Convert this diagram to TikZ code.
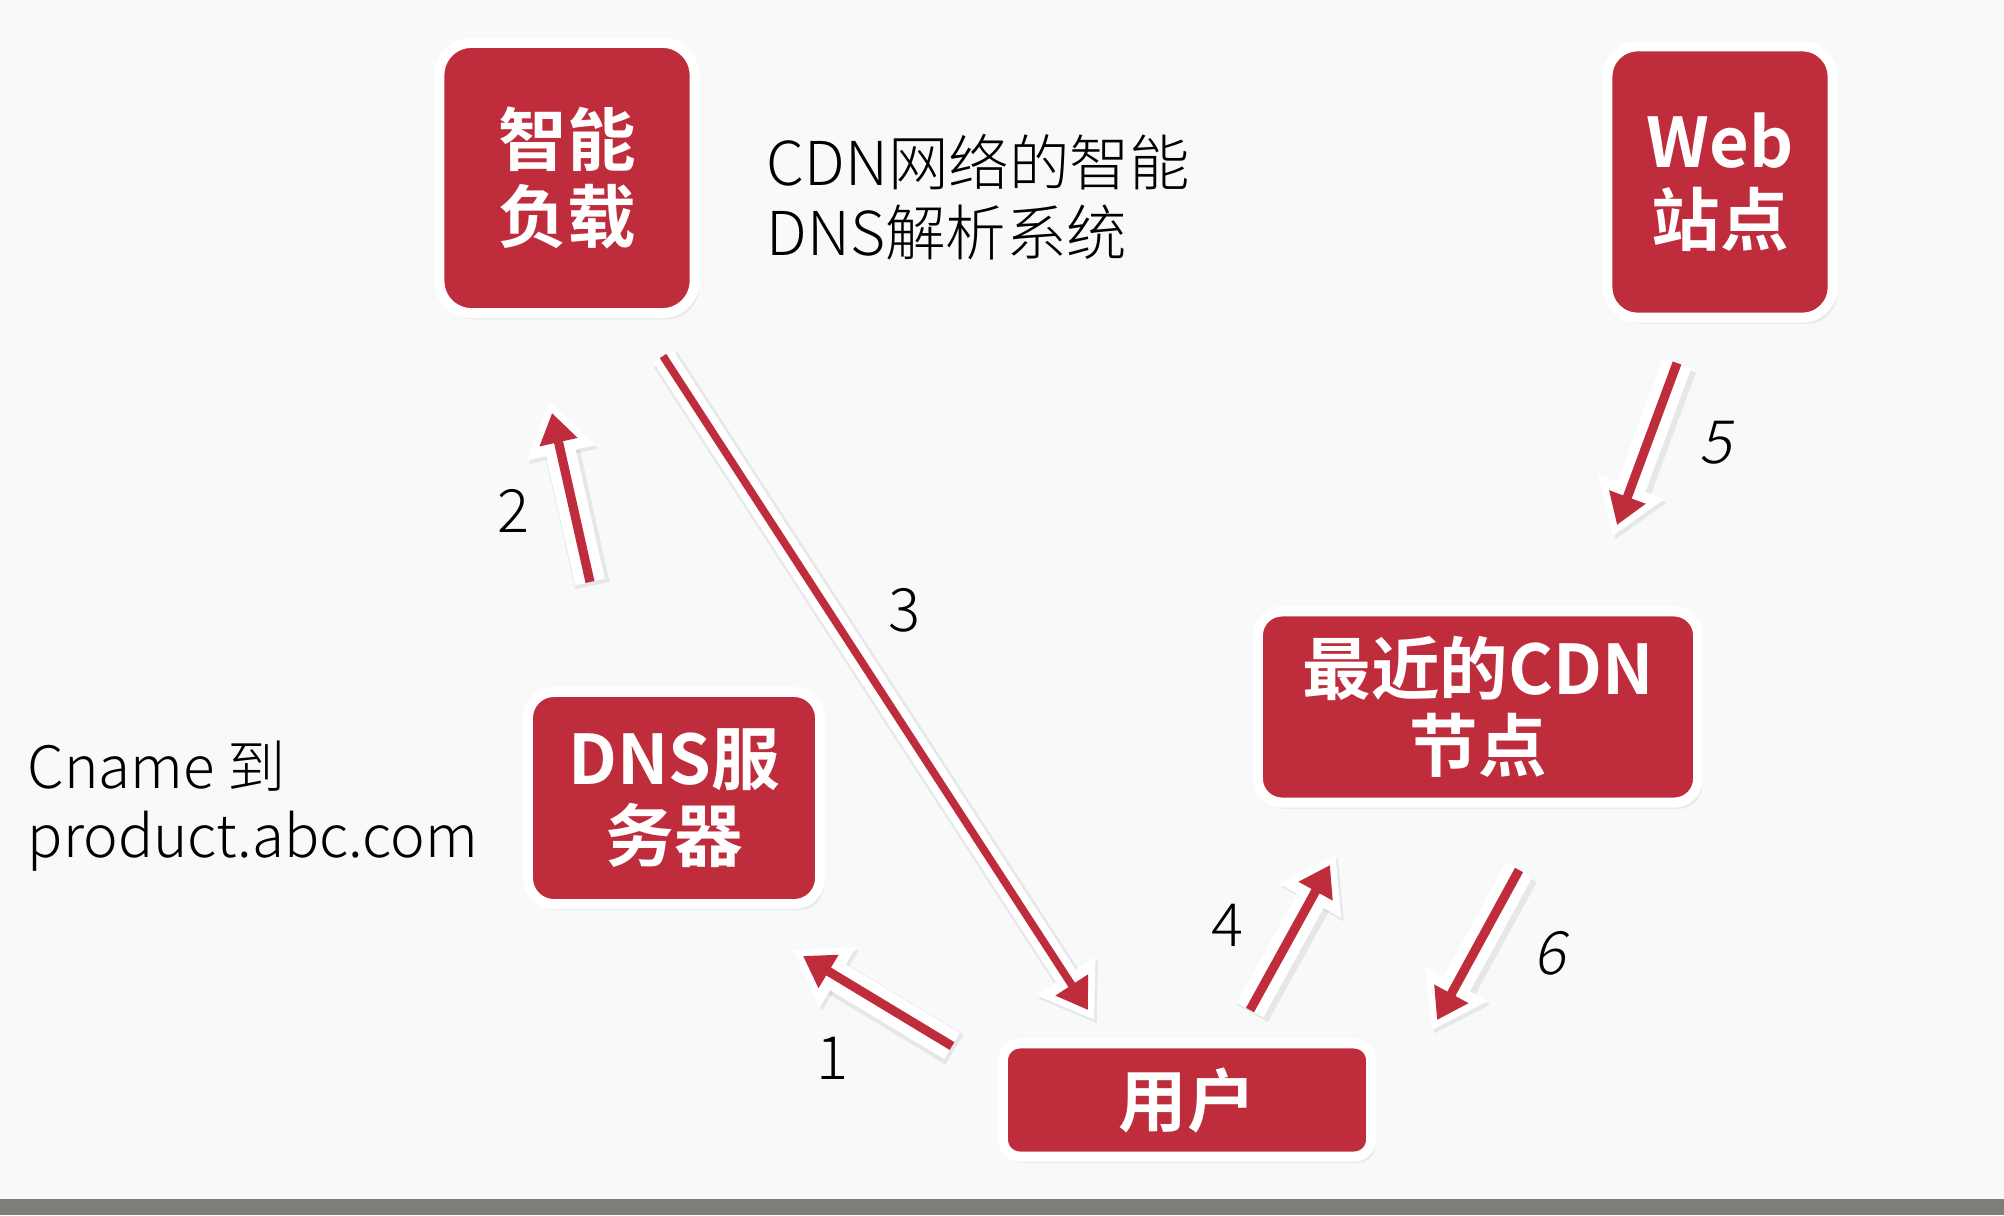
\documentclass[tikz,border=0pt]{standalone}
\usepackage{fontspec}
\usetikzlibrary{arrows.meta,shadows}

\newfontfamily\cjk{Noto Sans CJK SC}
\IfFontExistsTF{Noto Sans CJK SC Bold}
  {\newfontfamily\cjkbf{Noto Sans CJK SC Bold}}
  {\newfontfamily\cjkbf{Noto Sans CJK SC}[FakeBold=1.5]}
\IfFontExistsTF{Noto Sans CJK SC Light}
  {\newfontfamily\cjklt{Noto Sans CJK SC Light}\newfontfamily\cjkit{Noto Sans CJK SC Light}[FakeSlant=0.2]}
  {\newfontfamily\cjklt{Noto Sans CJK SC}\newfontfamily\cjkit{Noto Sans CJK SC}[FakeSlant=0.2]}

\definecolor{cdnred}{RGB}{191,45,60}
\definecolor{paper}{RGB}{248,250,249}
\definecolor{bargray}{RGB}{124,126,122}

\begin{document}
\begin{tikzpicture}[
  x=0.01cm,y=-0.01cm,
  box/.style={draw=white,line width=0.1cm,fill=cdnred,rounded corners=0.3cm,text=white,
    inner sep=0pt,align=center,font=\cjkbf\fontsize{19.5}{22}\selectfont,
    drop shadow={shadow xshift=1.2pt,shadow yshift=-1.8pt,opacity=0.12}},
  note/.style={anchor=north west,inner sep=0pt,align=left,font=\cjklt\fontsize{16.6}{19.6}\selectfont},
  num/.style={inner sep=0pt,font=\cjklt\fontsize{17}{20}\selectfont},
  slnum/.style={inner sep=0pt,font=\cjkit\fontsize{17}{20}\selectfont},
  redtip/.style={-{Triangle[length=8.5pt,width=10.5pt]}},
  whitetip/.style={shorten >=-3.4pt,-{Triangle[length=15pt,width=19pt]}},
  arr/.style={cdnred,line width=2.6pt,redtip,
    preaction={draw=black,opacity=0.07,line width=10pt,whitetip,transform canvas={xshift=0.7pt,yshift=-1pt}},
    preaction={draw=white,line width=8.6pt,whitetip}},
  thinarr/.style={cdnred,line width=2.2pt,redtip,
    preaction={draw=black,opacity=0.07,line width=8pt,whitetip,transform canvas={xshift=0.7pt,yshift=-1pt}},
    preaction={draw=white,line width=6.6pt,whitetip}}
]
  \fill[paper] (0,0) rectangle (2004,1215);
  \fill[bargray] (0,1199) rectangle (2004,1215);

  \node[box,minimum width=2.55cm,minimum height=2.70cm,rounded corners=0.32cm] (lb) at (567,178) {智能\\负载};
  \node[box,minimum width=2.25cm,minimum height=2.71cm] (web) at (1720,182) {Web\\站点};
  \node[box,minimum width=2.92cm,minimum height=2.12cm,rounded corners=0.26cm] (dns) at (674,798) {DNS服\\务器};
  \node[box,minimum width=4.40cm,minimum height=1.91cm,rounded corners=0.24cm] (cdn) at (1478,707) {最近的CDN\\节点};
  \node[box,minimum width=3.68cm,minimum height=1.13cm,rounded corners=0.17cm] (user) at (1187,1100) {用户};

  \node[note,font=\cjklt\fontsize{17.2}{19.8}\selectfont] (sys) at (766,134) {CDN网络的智能\\DNS解析系统};
  \node[note] (cname) at (27,740) {Cname 到\\product.abc.com};

  \coordinate (a1s) at (952,1046); \coordinate (a1e) at (803,956);
  \coordinate (a2s) at (590,582);  \coordinate (a2e) at (552,413);
  \coordinate (a3s) at (663,356);  \coordinate (a3e) at (1088,1010);
  \coordinate (a4s) at (1250,1010); \coordinate (a4e) at (1330,865);
  \coordinate (a5s) at (1677,363); \coordinate (a5e) at (1617,525);
  \coordinate (a6s) at (1519,870); \coordinate (a6e) at (1437,1020);

  \draw[arr] (a1s) -- (a1e);
  \draw[arr] (a2s) -- (a2e);
  \draw[thinarr] (a3s) -- (a3e);
  \draw[arr] (a4s) -- (a4e);
  \draw[arr] (a5s) -- (a5e);
  \draw[arr] (a6s) -- (a6e);

  \node[num] (n1) at (832,1058) {1};
  \node[num] (n2) at (513,511) {2};
  \node[num] (n3) at (904,610) {3};
  \node[num] (n4) at (1227,925) {4};
  \node[slnum] (n5) at (1715,443) {5};
  \node[slnum] (n6) at (1549,953) {6};
\end{tikzpicture}
\end{document}
